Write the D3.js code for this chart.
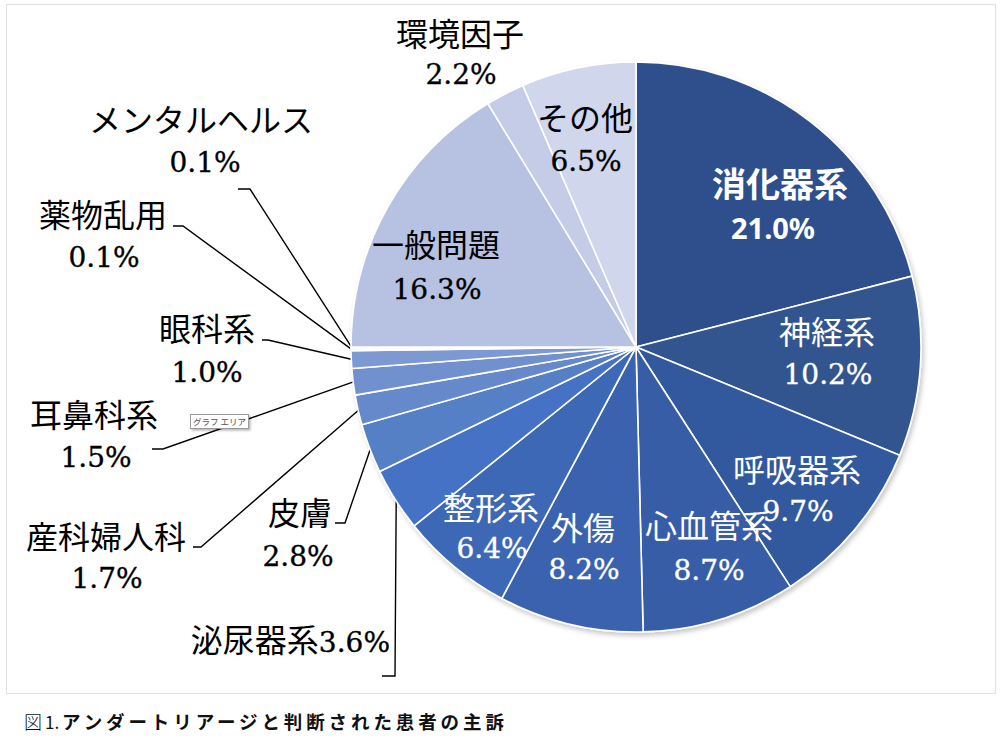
<!DOCTYPE html>
<html>
<head>
<meta charset="utf-8">
<script src="https://cdn.jsdelivr.net/npm/d3@7"></script>
<style>
  html, body { margin: 0; padding: 0; background: #fff; }
  svg { display: block; }
</style>
</head>
<body>
<svg id="chart" width="1000" height="745"></svg>
<script>
// ---------- data ----------
const categories = ["消化器系","神経系","呼吸器系","心血管系","外傷","整形系","泌尿器系","皮膚","産科婦人科","耳鼻科系","眼科系","薬物乱用","メンタルヘルス","一般問題","環境因子","その他"];
const values = [21.0, 10.2, 9.7, 8.7, 8.2, 6.4, 3.6, 2.8, 1.7, 1.5, 1.0, 0.1, 0.1, 16.3, 2.2, 6.5];
const valueLabels = ["21.0%","10.2%","9.7%","8.7%","8.2%","6.4%","3.6%","2.8%","1.7%","1.5%","1.0%","0.1%","0.1%","16.3%","2.2%","6.5%"];
const captionFig = "図";
const captionNum = "1.";
const captionText = "アンダートリアージと判断された患者の主訴";

// ---------- styles ----------
const sliceColors = ["#2f508c","#30548f","#33589e","#375da7","#3a62ae","#3e68b6","#4472c4","#5780c6","#6689cb","#7190ce","#7c99d2","#869fd5","#8ca4d7","#b7c1e2","#c4cce8","#d0d7ed"];
const cx = 636, cy = 347, R = 285;

// label layout relative to pie centre: name centre, value centre, text colour, leader line (label end, elbow)
const labelLayout = {
  "消化器系":   {n:[144,-162], v:[137,-119], fill:"#fff", bold:true},
  "神経系":     {n:[191,-15],  v:[192,27],   fill:"#fff"},
  "呼吸器系":   {n:[161,123],  v:[162,164],  fill:"#fff"},
  "心血管系":   {n:[73,179],   v:[73,223],   fill:"#fff"},
  "外傷":       {n:[-53,181],  v:[-52,222],  fill:"#fff"},
  "整形系":     {n:[-145,161], v:[-144,201], fill:"#fff"},
  "泌尿器系":   {single:[-246,294], fill:"#000", leader:[[-254,329],[-241,329]]},
  "皮膚":       {n:[-336,166], v:[-338,209], fill:"#000", leader:[[-301,176],[-291,176]]},
  "産科婦人科": {n:[-530,190], v:[-529,231], fill:"#000", leader:[[-443,200],[-435,200]]},
  "耳鼻科系":   {n:[-542,68],  v:[-540,110], fill:"#000", leader:[[-484,102],[-473,102]]},
  "眼科系":     {n:[-429,-18], v:[-429,25],  fill:"#000", leader:[[-374,-7],[-368,-7]]},
  "薬物乱用":   {n:[-533,-132],v:[-532,-90], fill:"#000", leader:[[-463,-121],[-453,-121]]},
  "メンタルヘルス":{n:[-435,-227],v:[-431,-185],fill:"#000", leader:[[-398,-158],[-386,-158]]},
  "一般問題":   {n:[-200,-102],v:[-199,-58], fill:"#000"},
  "環境因子":   {n:[-176,-313],v:[-175,-273],fill:"#000"},
  "その他":     {n:[-51,-229], v:[-50,-186], fill:"#000"}
};

const data = categories.map((c, i) => ({name: c, value: values[i], label: valueLabels[i], color: sliceColors[i]}));

const svg = d3.select("#chart");

// defs: shadow
const defs = svg.append("defs");
const f = defs.append("filter").attr("id","shadow").attr("x","-10%").attr("y","-10%").attr("width","125%").attr("height","125%");
f.append("feDropShadow").attr("dx",2).attr("dy",3).attr("stdDeviation",2.5).attr("flood-color","#000").attr("flood-opacity",0.22);
const f2 = defs.append("filter").attr("id","tipShadow").attr("x","-20%").attr("y","-30%").attr("width","150%").attr("height","180%");
f2.append("feDropShadow").attr("dx",1.5).attr("dy",1.5).attr("stdDeviation",1).attr("flood-color","#000").attr("flood-opacity",0.3);

// chart area border
svg.append("rect").attr("x",6.5).attr("y",4.5).attr("width",989).attr("height",689)
  .attr("fill","#fff").attr("stroke","#dfe3e3").attr("stroke-width",1.2);

const pie = d3.pie().sort(null).value(d => d.value);
const arcs = pie(data);
const arc = d3.arc().innerRadius(0).outerRadius(R);
const edgeArc = d3.arc().innerRadius(R - 1).outerRadius(R - 1);

const g = svg.append("g").attr("transform", `translate(${cx},${cy})`);

// leader lines (behind slices)
const leaders = g.append("g");
arcs.forEach(a => {
  const L = labelLayout[a.data.name];
  if (!L || !L.leader) return;
  const p = edgeArc.centroid(a);
  const pts = [L.leader[0], L.leader[1], p];
  leaders.append("path")
    .attr("d", d3.line()(pts))
    .attr("fill","none").attr("stroke","#000").attr("stroke-width",1.4);
});

g.append("g").attr("filter","url(#shadow)")
  .selectAll("path").data(arcs).join("path")
  .attr("d", arc)
  .attr("fill", d => d.data.color)
  .attr("stroke","#fff").attr("stroke-width",1.6).attr("stroke-linejoin","round");

// labels
const cjk = "'Noto Sans CJK JP', 'Noto Sans CJK SC', sans-serif";
const num = "'DejaVu Serif', 'Liberation Serif', serif";
const lg = g.append("g");
function numText(sel, fill) {
  return sel.attr("font-family", num).attr("font-size", 28).attr("fill", fill)
    .attr("stroke", fill).attr("stroke-width", 0.35);
}
arcs.forEach(a => {
  const d = a.data, L = labelLayout[d.name];
  if (L.single) {
    const t = lg.append("text")
      .attr("x", L.single[0]).attr("y", L.single[1] + 11)
      .attr("text-anchor","end").attr("fill", L.fill);
    t.append("tspan").attr("font-family", cjk).attr("font-size", 32).text(d.name);
    numText(t.append("tspan"), L.fill).text(d.label);
    return;
  }
  if (L.bold) {
    lg.append("text").attr("x", L.n[0]).attr("y", L.n[1] + 12)
      .attr("text-anchor","middle").attr("fill", L.fill)
      .attr("font-family", cjk).attr("font-weight", 700).attr("font-size", 34).text(d.name);
    lg.append("text").attr("x", L.v[0]).attr("y", L.v[1] + 11)
      .attr("text-anchor","middle").attr("fill", L.fill)
      .attr("font-family", "'Noto Sans', " + cjk).attr("font-weight", 700).attr("font-size", 29).text(d.label);
    return;
  }
  lg.append("text").attr("x", L.n[0]).attr("y", L.n[1] + 12)
    .attr("text-anchor","middle").attr("fill", L.fill)
    .attr("font-family", cjk).attr("font-size", 32).text(d.name);
  numText(lg.append("text").attr("x", L.v[0]).attr("y", L.v[1] + 10)
    .attr("text-anchor","middle"), L.fill).text(d.label);
});

// "グラフ エリア" tooltip
const tip = svg.append("g");
tip.append("rect").attr("x",190.5).attr("y",414.5).attr("width",58).attr("height",14)
  .attr("fill","#fff").attr("stroke","#9a9a9a").attr("stroke-width",1).attr("filter","url(#tipShadow)");
tip.append("text").attr("x",219.5).attr("y",425).attr("text-anchor","middle")
  .attr("font-family", cjk).attr("font-size",8.5).attr("fill","#555").text("グラフ エリア");

// caption
const cap = svg.append("text").attr("y",729).attr("font-family", cjk).attr("font-size",18).attr("fill","#111");
cap.append("tspan").attr("x",24).attr("font-weight",300).text(captionFig);
cap.append("tspan").attr("x",45).attr("font-weight",400).attr("font-size",17).text(captionNum);
cap.append("tspan").attr("x",62).attr("font-weight",700).attr("font-size",18.5).attr("letter-spacing",3.9).text(captionText);
</script>
</body>
</html>
